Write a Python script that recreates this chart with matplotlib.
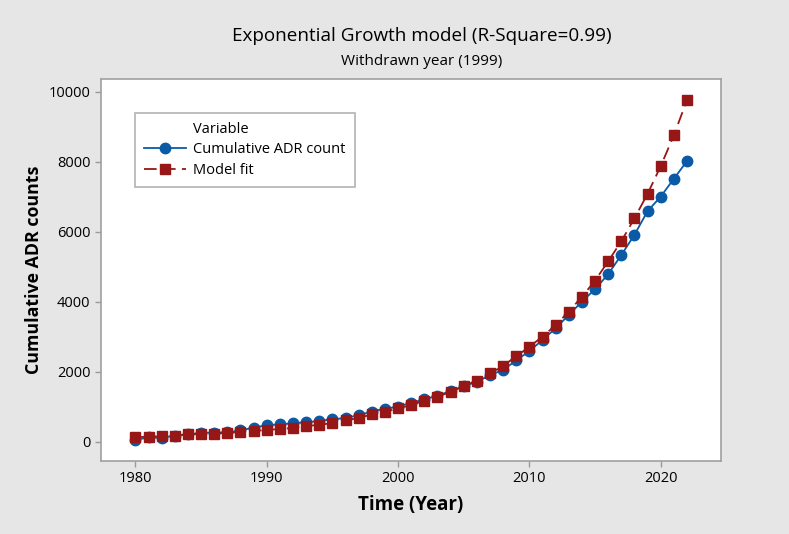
import matplotlib.pyplot as plt
from matplotlib.lines import Line2D

# Data
years = list(range(1980, 2023))
adr_count = [60, 130, 120, 185, 220, 260, 270, 275, 330, 410,
             480, 505, 535, 565, 600, 655, 680, 770, 865, 950,
             1010, 1120, 1215, 1325, 1455, 1595, 1720, 1910, 2060, 2330,
             2600, 2915, 3250, 3630, 4010, 4365, 4795, 5340, 5920, 6595,
             7010, 7520, 8025]
model_fit = [140, 150, 165, 185, 215, 230, 240, 260, 286, 310,
             345, 370, 400, 455, 490, 540, 620, 680, 790, 860,
             960, 1055, 1180, 1295, 1430, 1595, 1755, 1960, 2175, 2450,
             2720, 3010, 3340, 3725, 4150, 4610, 5160, 5735, 6390, 7090,
             7880, 8760, 9770]
x_ticks = [1980, 1990, 2000, 2010, 2020]
y_ticks = [0, 2000, 4000, 6000, 8000, 10000]

blue = '#0b5aa6'
red = '#971616'

plt.rcParams['font.family'] = ['Open Sans', 'DejaVu Sans']

fig = plt.figure(figsize=(7.89, 5.34), dpi=100, facecolor='#e6e6e6')
ax = fig.add_axes([0.128, 0.1367, 0.7858, 0.7154])
ax.set_facecolor('white')

l1, = ax.plot(years, adr_count, color=blue, linewidth=1.3, marker='o',
              markersize=7.5, label='Cumulative ADR count', zorder=3)
l2, = ax.plot(years, model_fit, color=red, linewidth=1.3, linestyle=(0, (7, 3.5)),
              marker='s', markersize=7.2, label='Model fit', zorder=4)

ax.set_xlim(1977.38, 2024.59)
ax.set_ylim(-543, 10371)
ax.set_xticks(x_ticks)
ax.set_yticks(y_ticks)
ax.tick_params(colors='#9a9a9a', labelcolor='black', labelsize=10.5, length=4, width=1)
for s in ax.spines.values():
    s.set_color('#a0a0a0')
    s.set_linewidth(1.2)

ax.set_xlabel('Time (Year)', fontsize=13.5, fontweight='bold', labelpad=6)
ax.set_ylabel('Cumulative ADR counts', fontsize=12.8, fontweight='bold', labelpad=4)

fig.text(0.535, 0.933, 'Exponential Growth model (R-Square=0.99)', ha='center', va='center',
         fontsize=13.6)
fig.text(0.535, 0.885, 'Withdrawn year (1999)', ha='center', va='center', fontsize=11)

# legend with "Variable" title placed in the text column
blank = Line2D([], [], linestyle='none')
leg = ax.legend([blank, l1, l2], ['Variable', 'Cumulative ADR count', 'Model fit'],
                loc='upper left', bbox_to_anchor=(0.055, 0.911), borderaxespad=0,
                fontsize=10.5, frameon=True, fancybox=False, handlelength=2.9,
                handletextpad=0.5, labelspacing=0.38, borderpad=0.6)
leg.get_frame().set_edgecolor('#a0a0a0')
leg.get_frame().set_linewidth(1.2)

fig.savefig('out.png', dpi=100, facecolor=fig.get_facecolor())
